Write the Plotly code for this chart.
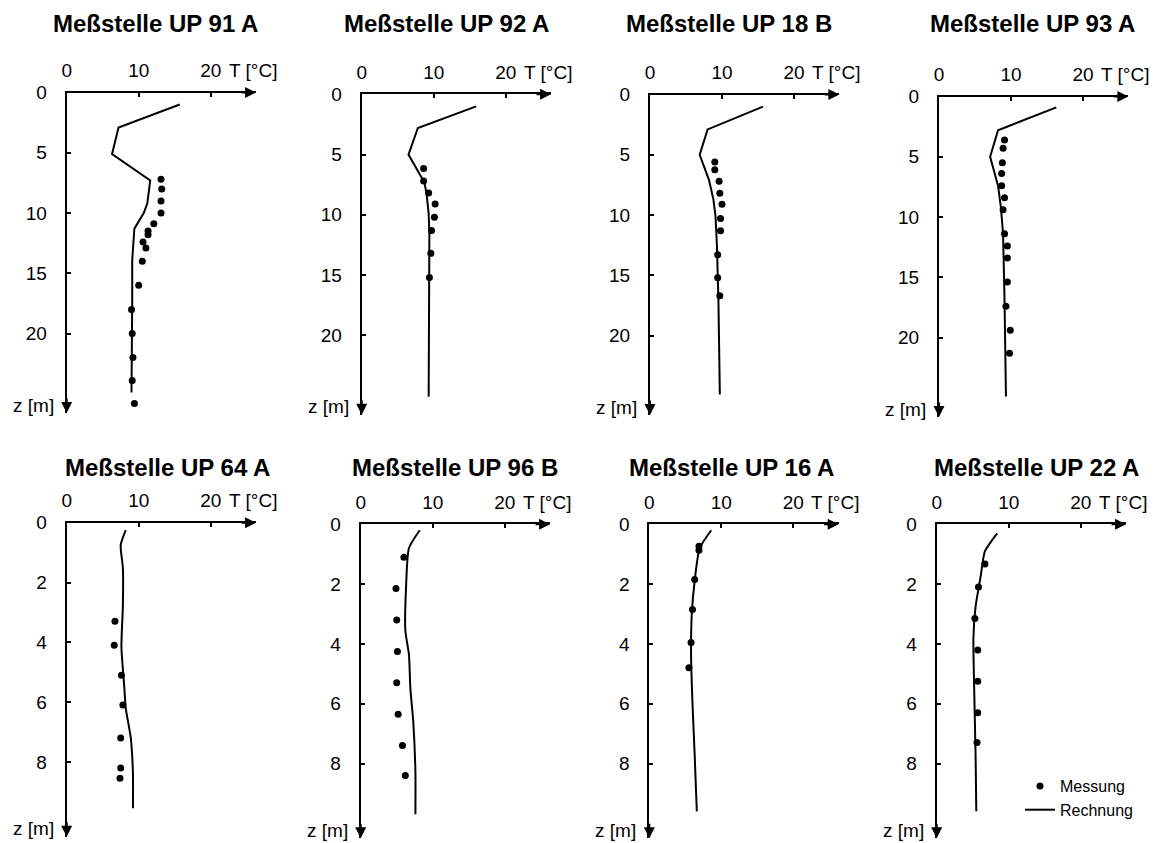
import plotly.graph_objects as go

# The page body adds an 8 px margin, so the figure is drawn 8 px smaller and
# every reference pixel position is shifted by that margin.
PAGE_MARGIN = 8
W, H = 1168 - PAGE_MARGIN, 843 - PAGE_MARGIN
FONT = "Liberation Sans, Arial, Helvetica, sans-serif"


def px_x(px):
    return (px - PAGE_MARGIN) / W


def px_y(py):
    return 1 - (py - PAGE_MARGIN) / H


# ---------------- data ----------------
titles = ["Meßstelle UP 91 A", "Meßstelle UP 92 A", "Meßstelle UP 18 B", "Meßstelle UP 93 A",
          "Meßstelle UP 64 A", "Meßstelle UP 96 B", "Meßstelle UP 16 A", "Meßstelle UP 22 A"]

x_ticks = [0, 10, 20]
x_ticktext = ["0", "10", "20"]
z_ticks_top = [0, 5, 10, 15, 20]
z_ticks_bottom = [0, 2, 4, 6, 8]
legend_names = ["Messung", "Rechnung"]

# UP 91 A
up91a_calc_T = [15.7, 7.2, 6.3, 11.6, 11.2, 10.7, 9.4, 9.1, 9.1, 9.0]
up91a_calc_z = [1.0, 2.9, 5.1, 7.3, 9.2, 10.0, 11.3, 13.9, 17.2, 24.9]
up91a_meas_T = [13.1, 13.2, 13.1, 13.1, 12.1, 11.3, 11.3, 10.6, 11.0, 10.5, 10.0, 9.0, 9.1, 9.2, 9.1, 9.4]
up91a_meas_z = [7.2, 8.0, 9.0, 10.0, 10.9, 11.5, 11.8, 12.4, 12.9, 14.0, 16.0, 18.0, 20.0, 22.0, 23.9, 25.8]
# UP 92 A
up92a_calc_T = [15.9, 7.8, 6.5, 7.8, 8.7, 9.0, 9.3, 9.4, 9.4, 9.3, 9.3]
up92a_calc_z = [1.0, 2.8, 5.0, 6.3, 7.3, 8.2, 9.9, 11.6, 14.3, 19.9, 25.1]
up92a_meas_T = [8.6, 8.6, 9.3, 10.2, 10.1, 9.7, 9.6, 9.4]
up92a_meas_z = [6.15, 7.2, 8.2, 9.1, 10.2, 11.3, 13.2, 15.2]
# UP 18 B
up18b_calc_T = [15.7, 8.0, 6.9, 8.2, 8.8, 9.1, 9.3, 9.5, 9.7]
up18b_calc_z = [1.0, 2.9, 5.0, 7.1, 8.7, 10.1, 12.6, 17.0, 24.9]
up18b_meas_T = [9.0, 9.0, 9.6, 9.7, 10.0, 9.8, 9.8, 9.4, 9.4, 9.7]
up18b_meas_z = [5.6, 6.25, 7.2, 8.2, 9.1, 10.3, 11.3, 13.3, 15.2, 16.7]
# UP 93 A
up93a_calc_T = [16.3, 8.2, 7.1, 8.2, 8.6, 8.9, 9.1, 9.3]
up93a_calc_z = [0.9, 2.8, 5.0, 7.4, 9.2, 11.4, 16.9, 24.9]
up93a_meas_T = [9.1, 8.9, 8.8, 8.7, 8.7, 9.1, 8.9, 9.1, 9.5, 9.5, 9.5, 9.3, 9.9, 9.8]
up93a_meas_z = [3.6, 4.3, 5.5, 6.4, 7.4, 8.4, 9.4, 11.4, 12.4, 13.4, 15.4, 17.4, 19.4, 21.3]
# UP 64 A
up64a_calc_T = [8.2, 7.5, 7.8, 7.8, 7.6, 8.0, 8.2, 8.9, 9.2, 9.2]
up64a_calc_z = [0.25, 0.75, 1.5, 2.8, 4.15, 5.5, 6.2, 7.2, 8.4, 9.55]
up64a_meas_T = [6.7, 6.6, 7.6, 7.8, 7.5, 7.5, 7.4]
up64a_meas_z = [3.3, 4.1, 5.1, 6.1, 7.2, 8.2, 8.55]
# UP 96 B
up96b_calc_T = [8.2, 6.7, 6.3, 6.2, 6.7, 6.9, 7.3, 7.6, 7.6]
up96b_calc_z = [0.2, 0.8, 2.1, 3.55, 4.35, 5.5, 6.6, 8.3, 9.7]
up96b_meas_T = [6.0, 4.9, 5.0, 5.1, 5.0, 5.2, 5.8, 6.2]
up96b_meas_z = [1.1, 2.15, 3.2, 4.25, 5.3, 6.35, 7.4, 8.4]
# UP 16 A
up16a_calc_T = [8.6, 7.0, 6.3, 5.9, 5.8, 6.0, 6.3, 6.6]
up16a_calc_z = [0.2, 0.8, 1.9, 3.0, 4.35, 6.0, 7.7, 9.6]
up16a_meas_T = [6.9, 6.9, 6.3, 6.0, 5.8, 5.5]
up16a_meas_z = [0.73, 0.87, 1.85, 2.85, 3.95, 4.8]
# UP 22 A
up22a_calc_T = [8.4, 6.7, 6.1, 5.4, 5.1, 5.2, 5.4, 5.5]
up22a_calc_z = [0.3, 0.9, 1.75, 2.75, 3.8, 5.45, 7.7, 9.6]
up22a_meas_T = [6.7, 5.8, 5.3, 5.7, 5.7, 5.7, 5.6]
up22a_meas_z = [1.33, 2.1, 3.15, 4.2, 5.25, 6.3, 7.3]

panels = [
    (up91a_calc_T, up91a_calc_z, up91a_meas_T, up91a_meas_z),
    (up92a_calc_T, up92a_calc_z, up92a_meas_T, up92a_meas_z),
    (up18b_calc_T, up18b_calc_z, up18b_meas_T, up18b_meas_z),
    (up93a_calc_T, up93a_calc_z, up93a_meas_T, up93a_meas_z),
    (up64a_calc_T, up64a_calc_z, up64a_meas_T, up64a_meas_z),
    (up96b_calc_T, up96b_calc_z, up96b_meas_T, up96b_meas_z),
    (up16a_calc_T, up16a_calc_z, up16a_meas_T, up16a_meas_z),
    (up22a_calc_T, up22a_calc_z, up22a_meas_T, up22a_meas_z),
]

# ---------------- layout geometry (reference pixels) ----------------
origin_x = [66.7, 361.7, 650.0, 939.0, 66.7, 360.7, 649.3, 936.7]
origin_y = [92.5, 94.3, 94.5, 96.5, 522.7, 524.3, 524.3, 524.3]
title_x = [155, 446, 729, 1032, 167, 455, 731, 1036]
title_y = [23, 23, 23, 23, 467, 467, 467, 467]
T_MAX = 26.3
PX_PER_C = 7.2
Z_MAX = [26.6, 10.5]
PX_PER_M = [12.05, 29.9]

fig = go.Figure()
layout_axes = {}
annotations = []
tick_font = dict(family=FONT, size=19, color="black")

for i, (cT, cz, mT, mz) in enumerate(panels):
    row = 0 if i < 4 else 1
    n = i + 1
    xa = "x" if n == 1 else f"x{n}"
    ya = "y" if n == 1 else f"y{n}"
    xkey = "xaxis" if n == 1 else f"xaxis{n}"
    ykey = "yaxis" if n == 1 else f"yaxis{n}"
    x0 = origin_x[i]
    x1 = x0 + T_MAX * PX_PER_C
    y0 = origin_y[i]
    y1 = y0 + Z_MAX[row] * PX_PER_M[row]

    fig.add_trace(go.Scatter(
        x=mT, y=mz, mode="markers", name=legend_names[0],
        marker=dict(color="black", size=7), xaxis=xa, yaxis=ya,
        showlegend=(i == 7), legendrank=1))
    fig.add_trace(go.Scatter(
        x=cT, y=cz, mode="lines", name=legend_names[1],
        line=dict(color="black", width=2, shape="spline" if row == 1 else "linear", smoothing=0.6),
        xaxis=xa, yaxis=ya, showlegend=(i == 7), legendrank=2))

    layout_axes[xkey] = dict(
        domain=[px_x(x0), px_x(x1)], range=[0, T_MAX], side="top", anchor=ya,
        automargin=False,
        showline=True, linecolor="black", linewidth=2, mirror=False,
        ticks="inside", ticklen=4, tickwidth=1.5, tickcolor="black",
        tickvals=x_ticks, ticktext=x_ticktext, tickfont=tick_font,
        ticklabelstandoff=6,
        showgrid=False, zeroline=False, fixedrange=True)
    layout_axes[ykey] = dict(
        domain=[px_y(y1), px_y(y0)], range=[Z_MAX[row], 0], anchor=xa,
        automargin=False,
        showline=True, linecolor="black", linewidth=2,
        ticks="inside", ticklen=4, tickwidth=1.5, tickcolor="black",
        tickvals=z_ticks_top if row == 0 else z_ticks_bottom, tickfont=tick_font,
        ticklabelstandoff=14,
        showgrid=False, zeroline=False, fixedrange=True)

    # title
    annotations.append(dict(
        text=f"<b>{titles[i]}</b>", xref="paper", yref="paper",
        x=px_x(title_x[i]), y=px_y(title_y[i]), xanchor="center", yanchor="middle",
        showarrow=False, font=dict(family=FONT, size=24, color="black")))
    # axis unit labels
    annotations.append(dict(
        text="T [°C]", xref=xa, yref="paper", x=22.2, y=px_y(y0 - 22),
        xanchor="left", yanchor="middle", showarrow=False, font=tick_font))
    annotations.append(dict(
        text="z [m]", xref="paper", yref="paper", x=px_x(x0 - 11), y=px_y(y1 - 8),
        xanchor="right", yanchor="middle", showarrow=False,
        font=dict(family=FONT, size=19, color="black")))
    # arrowheads on axes
    annotations.append(dict(
        text="", xref=xa, yref=ya, x=T_MAX, y=0, ax=-16, ay=0,
        showarrow=True, arrowhead=2, arrowsize=1.1, arrowwidth=2, arrowcolor="black"))
    annotations.append(dict(
        text="", xref=xa, yref=ya, x=0, y=Z_MAX[row], ax=0, ay=-16,
        showarrow=True, arrowhead=2, arrowsize=1.1, arrowwidth=2, arrowcolor="black"))

fig.update_layout(
    width=W, height=H,
    margin=dict(l=0, r=0, t=0, b=0, autoexpand=False),
    paper_bgcolor="white", plot_bgcolor="white",
    font=dict(family=FONT, color="black"),
    annotations=annotations,
    legend=dict(x=px_x(1020), y=px_y(769), xanchor="left", yanchor="top",
                bgcolor="rgba(0,0,0,0)", borderwidth=0,
                font=dict(family=FONT, size=16, color="black"),
                tracegroupgap=0, itemwidth=30),
    **layout_axes,
)

fig.write_html("out.html")
